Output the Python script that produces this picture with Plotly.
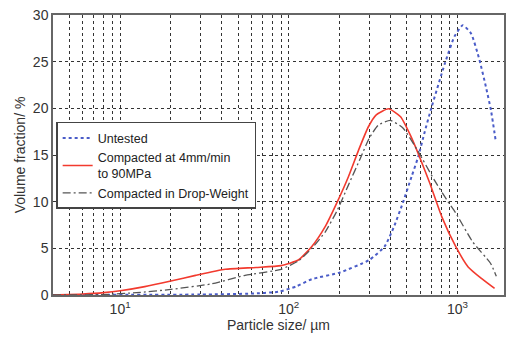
import plotly.graph_objects as go
import numpy as np

# Untested (blue dotted)
untested_x = [4, 30, 60, 87, 110, 137, 200, 300, 370, 420, 475, 535, 585, 640, 702, 842, 960, 1075, 1206, 1350, 1475, 1580, 1690]
untested_y = [0.0, 0.05, 0.15, 0.35, 0.9, 1.7, 2.4, 3.75, 5.2, 7.3, 9.9, 12.7, 14.8, 17.5, 20.1, 24.8, 27.7, 28.9, 28.0, 25.2, 22.3, 19.8, 16.4]

# Compacted at 4mm/min to 90MPa (red solid)
comp_x = [4, 6, 8, 10, 14, 20, 28, 42, 64, 90, 114, 137, 164, 193, 226, 259, 296, 330, 390, 460, 530, 584, 685, 807, 976, 1157, 1380, 1660]
comp_y = [0.0, 0.1, 0.25, 0.45, 0.9, 1.5, 2.1, 2.75, 2.95, 3.15, 3.75, 5.2, 7.3, 9.9, 12.7, 15.5, 18.0, 19.3, 19.95, 19.1, 17.0, 15.2, 12.0, 8.4, 5.2, 3.0, 1.8, 0.7]

# Compacted in Drop-Weight (gray dash-dot)
drop_x = [4, 8, 12.5, 20, 35, 55, 90, 115, 137, 165, 193, 226, 265, 300, 339, 400, 475, 584, 730, 879, 976, 1230, 1570, 1700]
drop_y = [0.0, 0.05, 0.25, 0.6, 1.2, 2.1, 2.75, 3.7, 5.0, 6.8, 9.0, 11.8, 14.6, 16.8, 18.2, 18.7, 17.9, 15.4, 12.3, 10.0, 8.8, 5.7, 3.4, 2.0]

names = ["Untested", "Compacted at 4mm/min<br>to 90MPa", "Compacted in Drop-Weight"]

y_ticks = [0, 5, 10, 15, 20, 25, 30]
x_major = [10, 100, 1000]
x_major_text = ["10<sup>1</sup>", "10<sup>2</sup>", "10<sup>3</sup>"]
x_minor = [m * d for d in [1, 10, 100, 1000] for m in range(2, 10) if 4 <= m * d <= 2000]

grid_style = dict(gridcolor="#333333", griddash="dot", gridwidth=1)

fig = go.Figure()
fig.add_trace(go.Scatter(x=untested_x, y=untested_y, name=names[0], mode="lines",
                         line=dict(color="#4a5cc8", width=2, dash="dot", shape="spline", smoothing=0.5)))
fig.add_trace(go.Scatter(x=comp_x, y=comp_y, name=names[1], mode="lines",
                         line=dict(color="#f23a2e", width=1.6, shape="spline", smoothing=0.5)))
fig.add_trace(go.Scatter(x=drop_x, y=drop_y, name=names[2], mode="lines",
                         line=dict(color="#555555", width=1.3, dash="8px,3px,2px,3px", shape="spline", smoothing=0.5)))

fig.update_layout(
    width=506, height=337,
    margin=dict(l=53, r=0, t=15, b=42),
    paper_bgcolor="white", plot_bgcolor="white",
    font=dict(family="Liberation Sans, Arial, sans-serif", color="#333333", size=12),
    showlegend=True,
    legend=dict(x=0.007, y=0.618, xanchor="left", yanchor="top",
                bgcolor="white", bordercolor="#444444", borderwidth=1.5,
                font=dict(size=12.5, color="#222222"), tracegroupgap=0,
                itemwidth=30),
)
fig.update_xaxes(type="log", range=[np.log10(4), 3.276],
                 tickvals=x_major, ticktext=x_major_text, ticks="",
                 showgrid=True, **grid_style,
                 minor=dict(tickvals=x_minor, showgrid=True, ticks="", **grid_style),
                 showline=True, mirror=True, linecolor="#666666", linewidth=1.5,
                 tickfont=dict(size=14), zeroline=False,
                 title=dict(text="Particle size/ µm", font=dict(size=14), standoff=4))
fig.update_yaxes(range=[0, 30], tickvals=y_ticks, ticks="",
                 showgrid=True, **grid_style,
                 showline=True, mirror=True, linecolor="#666666", linewidth=1.5,
                 tickfont=dict(size=14), zeroline=False,
                 title=dict(text="Volume fraction/ %", font=dict(size=14), standoff=4))

fig.write_html("out.html")
